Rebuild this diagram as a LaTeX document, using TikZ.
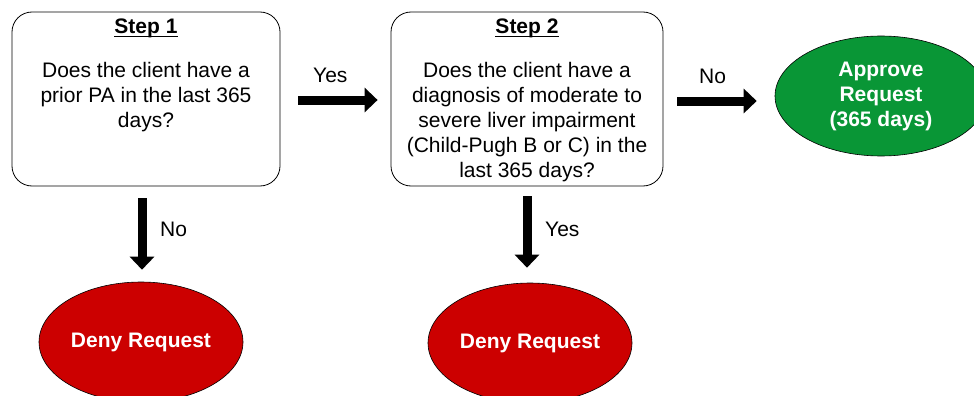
\documentclass[tikz,border=0pt]{standalone}
\usepackage{fontspec}
\setmainfont{Liberation Sans}
\usetikzlibrary{shapes.geometric,arrows.meta}
\definecolor{denyred}{RGB}{204,0,0}
\definecolor{approvegreen}{RGB}{9,150,54}
\newcommand{\myul}[1]{{\setbox0\hbox{#1}\rlap{\rule[-3.4pt]{\wd0}{1.4pt}}\box0}}
\tikzset{
  qbox/.style={draw=black, line width=0.8pt, rounded corners=20pt, minimum height=174pt, inner sep=0pt},
  qtext/.style={align=center, anchor=north, inner sep=0pt, font=\fontsize{21}{25}\selectfont},
  steplabel/.style={anchor=base, inner sep=0pt, font=\fontsize{21}{25}\selectfont\bfseries},
  lbl/.style={anchor=base west, inner sep=0pt, font=\fontsize{21}{25}\selectfont},
  endnode/.style={ellipse, draw=black, line width=0.6pt, inner sep=0pt, minimum width=204pt, minimum height=120pt,
    text=white, align=center, font=\fontsize{21}{25}\selectfont\bfseries},
  bigarrow/.style={line width=9pt, -{Triangle[width=24pt,length=13pt]}}
}
\begin{document}
\begin{tikzpicture}[x=1pt,y=-1pt]
\useasboundingbox (0,0) rectangle (974,396);
% boxes
\node[qbox, minimum width=268pt] (b1) at (146,99) {};
\node[qbox, minimum width=272pt] (b2) at (527,99) {};
\node[steplabel] (s1) at (146,34) {\myul{Step 1}};
\node[steplabel] (s2) at (527,34) {\myul{Step 2}};
\node[qtext] (q1) at (146,62.5) {Does the client have a\\prior PA in the last 365\\days?};
\node[qtext] (q2) at (527,62.5) {Does the client have a\\diagnosis of moderate to\\severe liver impairment\\(Child-Pugh B or C) in the\\last 365 days?};
% end nodes
\node[endnode, fill=approvegreen, minimum width=212pt] (ap) at (881,96) {Approve\\Request\\(365 days)};
\node[endnode, fill=denyred] (d1) at (141,342) {Deny Request};
\node[endnode, fill=denyred] (d2) at (530,343) {Deny Request};
% helper coordinates
\coordinate (h1) at (0,100);
\coordinate (h2) at (0,101);
\coordinate (h3) at (142,0);
\coordinate (h4) at (527,0);
% arrows
\draw[bigarrow, shorten <=18pt, shorten >=13pt] (b1.east |- h1) -- (b2.west |- h1);
\draw[bigarrow, shorten <=14pt, shorten >=18pt] (b2.east |- h2) -- (ap.west |- h2);
\draw[bigarrow, shorten <=12pt, shorten >=12pt] (h3 |- b1.south) -- (h3 |- d1.north);
\draw[bigarrow, shorten <=10pt, shorten >=15pt] (h4 |- b2.south) -- (h4 |- d2.north);
% labels
\node[lbl] (l1) at (313,82) {Yes};
\node[lbl] (l2) at (699,83) {No};
\node[lbl] (l3) at (160,236) {No};
\node[lbl] (l4) at (545,236) {Yes};
\end{tikzpicture}
\end{document}
